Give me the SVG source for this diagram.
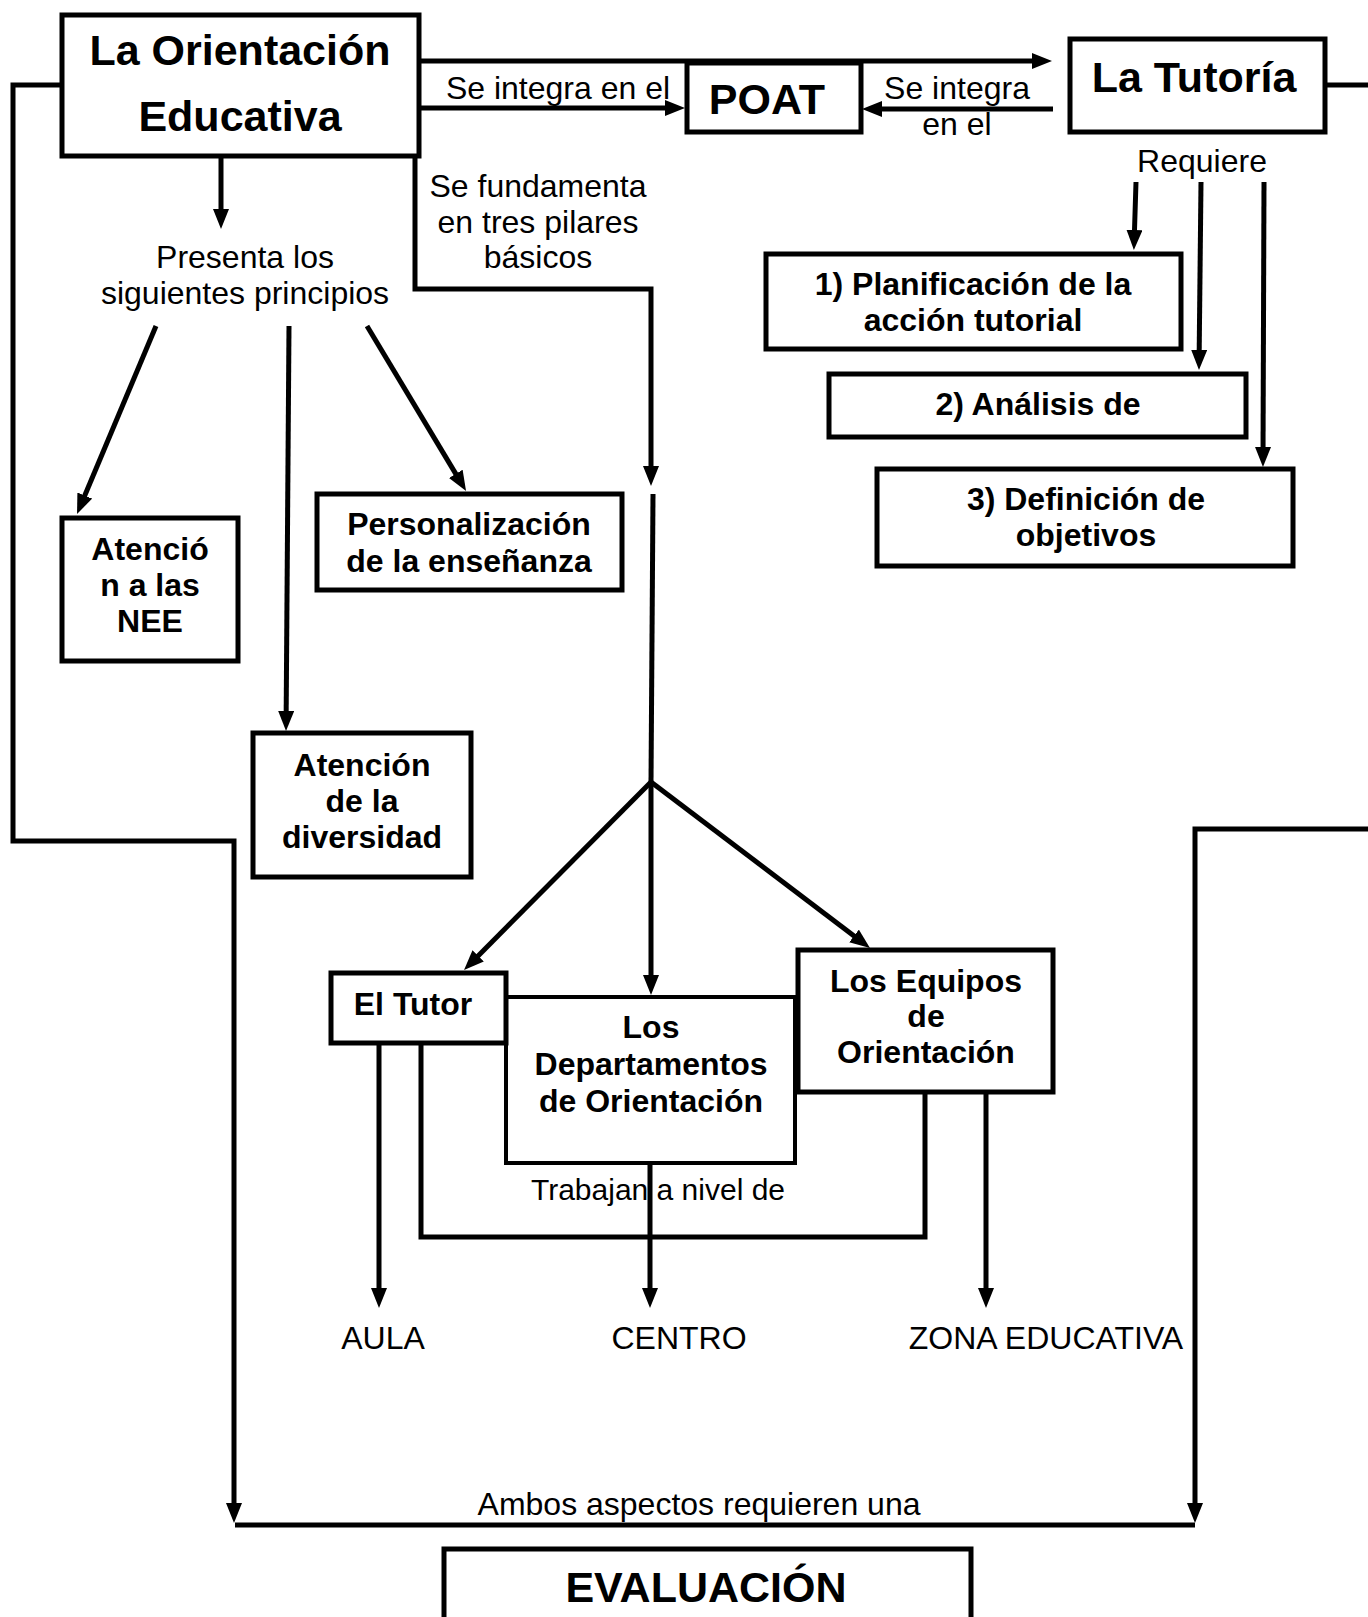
<svg xmlns="http://www.w3.org/2000/svg" width="1368" height="1617" viewBox="0 0 1368 1617">
<style>
.box{fill:#fff;stroke:#000;stroke-width:5}
.thin{fill:#fff;stroke:#000;stroke-width:4}
.c{fill:none;stroke:#000;stroke-width:5}
.a{marker-end:url(#ah)}
text{font-family:"Liberation Sans",Arial,sans-serif;fill:#000;text-anchor:middle}
.t{font-size:32px}
.s{font-size:30px}
.b{font-size:32px;font-weight:bold}
.h{font-size:43px;font-weight:bold}
</style>
<defs>
<marker id="ah" markerUnits="userSpaceOnUse" markerWidth="20" markerHeight="16" refX="10" refY="8" orient="auto">
<path d="M0,0 L20,8 L0,16 z" fill="#000"/>
</marker>
</defs>
<rect width="1368" height="1617" fill="#fff"/>

<g id="connectors">
<path class="c a" d="M421,61 H1042"/>
<path class="c a" d="M421,108 H675"/>
<path class="c a" d="M1053,109 H872"/>
<path class="c" d="M1326,85 H1368"/>
<path class="c a" d="M62,85 H13 V841 H234 V1513"/>
<path class="c a" d="M1368,829 H1195 V1513"/>
<path class="c" d="M235,1525 H1195"/>
<path class="c a" d="M221,157 V219"/>
<path class="c a" d="M415,157 V289 H651 V476"/>
<path class="c" d="M653,494 L651,782"/>
<path class="c a" d="M651,782 L471.1,962.9"/>
<path class="c a" d="M651,782 V985"/>
<path class="c a" d="M651,782 L862,942"/>
<path class="c a" d="M156,326 L80.9,504.8"/>
<path class="c a" d="M289,326 L286.1,721"/>
<path class="c a" d="M367,326 L460.9,482.4"/>
<path class="c a" d="M1136,182 L1134.2,240"/>
<path class="c a" d="M1201,182 L1199.1,360"/>
<path class="c a" d="M1264,182 L1263,457"/>
<path class="c a" d="M379,1044 V1298"/>
<path class="c" d="M421,1044 V1237 H925 V1093"/>
<path class="c a" d="M650,1163 V1298"/>
<path class="c a" d="M986,1093 V1298"/>
</g>

<g id="labels">
<text class="t" x="558" y="99">Se integra en el</text>
<text class="t" x="957" y="99">Se integra</text>
<text class="t" x="957" y="135">en el</text>
<text class="t" x="1202" y="172">Requiere</text>
<text class="t" x="245" y="268">Presenta los</text>
<text class="t" x="245" y="304">siguientes principios</text>
<text class="t" x="538" y="197">Se fundamenta</text>
<text class="t" x="538" y="233">en tres pilares</text>
<text class="t" x="538" y="268">básicos</text>
<text class="s" x="658" y="1200">Trabajan a nivel de</text>
<text class="t" x="383" y="1349">AULA</text>
<text class="t" x="679" y="1349">CENTRO</text>
<text class="t" x="1046" y="1349">ZONA EDUCATIVA</text>
<text class="t" x="699" y="1515">Ambos aspectos requieren una</text>
</g>

<g id="orientacion">
<rect class="box" x="62" y="15" width="357" height="141"/>
<text class="h" x="240" y="65">La Orientación</text>
<text class="h" x="240" y="131">Educativa</text>
</g>
<g id="poat">
<rect class="box" x="687" y="63" width="174" height="69"/>
<text class="h" x="767" y="114">POAT</text>
</g>
<g id="tutoria">
<rect class="box" x="1070" y="39" width="255" height="93"/>
<text class="h" x="1194" y="92">La Tutoría</text>
</g>
<g id="planificacion">
<rect class="box" x="766" y="254" width="415" height="95"/>
<text class="b" x="973" y="295">1) Planificación de la</text>
<text class="b" x="973" y="331">acción tutorial</text>
</g>
<g id="analisis">
<rect class="box" x="829" y="374" width="417" height="63"/>
<text class="b" x="1038" y="415">2) Análisis de</text>
</g>
<g id="definicion">
<rect class="box" x="877" y="469" width="416" height="97"/>
<text class="b" x="1086" y="510">3) Definición de</text>
<text class="b" x="1086" y="546">objetivos</text>
</g>
<g id="nee">
<rect class="box" x="62" y="518" width="176" height="143"/>
<text class="b" x="150" y="560">Atenció</text>
<text class="b" x="150" y="596">n a las</text>
<text class="b" x="150" y="632">NEE</text>
</g>
<g id="personalizacion">
<rect class="box" x="317" y="494" width="305" height="96"/>
<text class="b" x="469" y="535">Personalización</text>
<text class="b" x="469" y="572">de la enseñanza</text>
</g>
<g id="diversidad">
<rect class="box" x="253" y="733" width="218" height="144"/>
<text class="b" x="362" y="776">Atención</text>
<text class="b" x="362" y="812">de la</text>
<text class="b" x="362" y="848">diversidad</text>
</g>
<g id="departamentos">
<rect class="thin" x="506" y="997" width="289" height="166"/>
<text class="b" x="651" y="1038">Los</text>
<text class="b" x="651" y="1075">Departamentos</text>
<text class="b" x="651" y="1112">de Orientación</text>
</g>
<g id="tutor">
<rect class="box" x="331" y="973" width="175" height="70"/>
<text class="b" x="413" y="1015">El Tutor</text>
</g>
<g id="equipos">
<rect class="box" x="798" y="950" width="255" height="142"/>
<text class="b" x="926" y="992">Los Equipos</text>
<text class="b" x="926" y="1027">de</text>
<text class="b" x="926" y="1063">Orientación</text>
</g>
<g id="evaluacion">
<rect class="box" x="444" y="1549" width="527" height="100"/>
<text class="h" x="706" y="1602">EVALUACIÓN</text>
</g>
</svg>
